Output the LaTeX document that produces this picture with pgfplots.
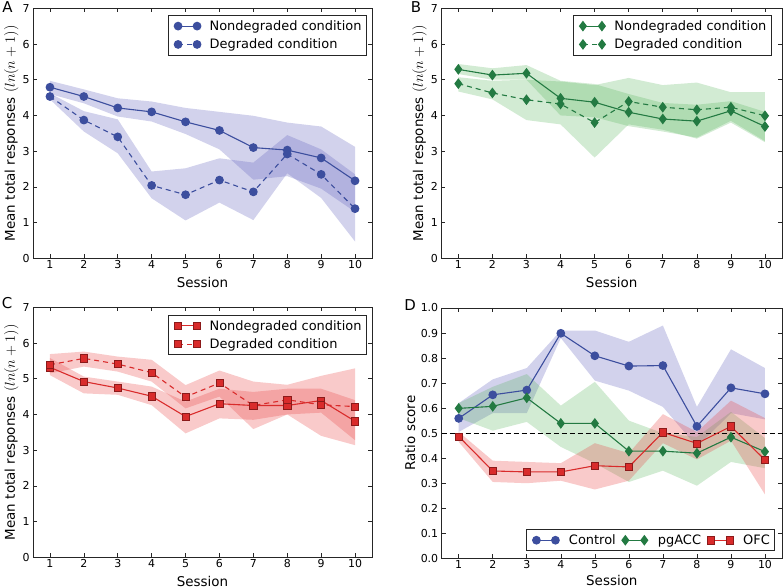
\documentclass[border=0pt]{standalone}
\usepackage{fontspec}
\setmainfont{DejaVu Sans}
\usepackage{pgfplots}
\usepackage{pgfplotstable}
\pgfplotsset{compat=1.18}

\definecolor{cblue}{HTML}{3C4E9E}
\definecolor{cgreen}{HTML}{237A42}
\definecolor{cred}{HTML}{D92B2B}
\definecolor{credge}{HTML}{8B1A1A}
\definecolor{bblue}{HTML}{6A6AC0}
\definecolor{bgreen}{HTML}{4CAF50}
\definecolor{bred}{HTML}{E84040}

% means
\pgfplotstableread{
x An Ad Bn Bd Cn Cd Dc Dp Do
1 4.79 4.53 5.29 4.89 5.32 5.39 0.559 0.599 0.487
2 4.53 3.87 5.13 4.63 4.92 5.57 0.653 0.607 0.349
3 4.21 3.40 5.18 4.44 4.74 5.41 0.672 0.641 0.345
4 4.10 2.04 4.48 4.32 4.51 5.17 0.899 0.539 0.345
5 3.82 1.78 4.37 3.80 3.94 4.49 0.809 0.539 0.370
6 3.58 2.19 4.09 4.39 4.30 4.88 0.768 0.428 0.365
7 3.10 1.86 3.90 4.23 4.25 4.25 0.770 0.428 0.503
8 3.03 2.92 3.84 4.16 4.25 4.41 0.527 0.420 0.459
9 2.81 2.35 4.13 4.23 4.39 4.27 0.681 0.484 0.527
10 2.17 1.39 3.69 3.99 3.81 4.22 0.657 0.426 0.393
}\means
% confidence bands: upper edge from session 1 to 10, then lower edge from 10 back to 1
\pgfplotstableread{
x An Ad Bn Bd Cn Cd Dc Dp Do
1 4.97 4.62 5.44 5.07 5.58 5.69 0.620 0.620 0.505
2 4.73 4.12 5.32 4.97 5.06 5.76 0.715 0.685 0.390
3 4.48 3.89 5.41 5.00 4.92 5.62 0.760 0.736 0.385
4 4.39 2.43 4.97 4.95 4.78 5.53 0.910 0.610 0.380
5 4.21 2.52 4.88 4.85 4.36 4.82 0.910 0.705 0.460
6 4.10 2.80 4.60 5.05 4.72 5.23 0.865 0.550 0.420
7 3.99 2.68 4.35 4.85 4.63 4.92 0.930 0.500 0.576
8 3.80 3.45 4.30 4.92 4.72 4.83 0.605 0.485 0.505
9 3.69 3.05 4.40 4.65 4.72 5.08 0.835 0.585 0.630
10 3.12 2.35 4.10 4.65 4.40 5.29 0.760 0.480 0.560
10 1.30 0.47 3.28 3.25 3.28 3.14 0.555 0.360 0.255
9 1.95 1.69 3.85 3.80 4.05 3.40 0.580 0.385 0.470
8 2.30 2.38 3.38 3.35 4.00 4.00 0.445 0.290 0.395
7 2.20 1.07 3.55 3.60 3.85 3.59 0.605 0.350 0.460
6 3.05 1.56 3.70 3.75 3.89 4.50 0.670 0.305 0.310
5 3.48 1.06 3.95 2.82 3.47 4.17 0.710 0.380 0.275
4 3.83 1.68 4.00 3.75 4.26 4.92 0.880 0.445 0.310
3 3.97 2.94 5.00 3.87 4.55 5.20 0.580 0.545 0.300
2 4.34 3.55 5.00 4.45 4.59 5.34 0.580 0.510 0.305
1 4.60 4.45 5.16 4.67 5.10 5.15 0.505 0.560 0.465
}\bands

\pgfplotsset{
  panel/.style={
    scale only axis,
    xmin=0.5, xmax=10.5,
    xtick={1,...,10},
    minor tick num=0,
    tick align=inside,
    major tick length=4bp,
    tick style={black!85, line width=0.6bp},
    axis line style={black!85, line width=0.8bp},
    tick label style={font=\fontsize{11}{13}\selectfont},
    xticklabel style={yshift=1bp},
    xlabel style={font=\fontsize{13.5}{16}\selectfont, at={(axis description cs:0.5,-0.095)}, anchor=center},
    ylabel style={font=\fontsize{13.5}{16}\selectfont, at={(axis description cs:-0.064,0.5)}, anchor=center},
    /pgf/number format/assume math mode=true,
    xlabel={Session},
    legend cell align=left,
    legend style={font=\fontsize{13}{15}\selectfont, draw=black!85, line width=0.8bp,
      inner sep=3bp, row sep=3bp},
    legend image code/.code={\draw[#1] plot coordinates {(0bp,0bp) (19bp,0bp)}; \path (-6bp,0bp) (29bp,0bp);},
  },
  band/.style={draw=none, fill=#1, forget plot},
  sblue/.style={cblue, line width=1.1bp, mark=*, mark size=3.8bp, mark options={solid, fill=cblue}},
  sgreen/.style={cgreen, line width=1.1bp, mark=diamond*, mark size=4.5bp, mark options={solid, fill=cgreen}},
  sred/.style={cred, line width=1.1bp, mark=square*, mark size=3.6bp, mark options={solid, fill=cred, draw=credge, line width=0.6bp}},
  dsh/.style={dash pattern=on 5bp off 4bp},
}

\begin{document}
\begin{tikzpicture}
\path[use as bounding box] (0,0) rectangle (784bp,588bp);

% ---------- Panel A ----------
\begin{axis}[panel, at={(33bp,329.7bp)}, anchor=south west, width=339bp, height=250bp,
  ymin=0, ymax=7, ytick={0,...,7},
  ylabel={Mean total responses $(ln(n+1))$},
  legend style={at={(axis description cs:0.985,0.973)}, anchor=north east}]
\addplot[band=bblue, fill opacity=0.3] table[x=x,y=An]{\bands} -- cycle;
\addplot[band=bblue, fill opacity=0.3] table[x=x,y=Ad]{\bands} -- cycle;
\addplot[sblue] table[x=x,y=An]{\means};
\addlegendentry{Nondegraded condition}
\addplot[sblue, dsh] table[x=x,y=Ad]{\means};
\addlegendentry{Degraded condition}
\end{axis}

% ---------- Panel B ----------
\begin{axis}[panel, at={(441.3bp,329.7bp)}, anchor=south west, width=340.7bp, height=250bp,
  ymin=0, ymax=7, ytick={0,...,7},
  ylabel={Mean total responses $(ln(n+1))$},
  legend style={at={(axis description cs:0.97,0.973)}, anchor=north east}]
\addplot[band=bgreen, fill opacity=0.25] table[x=x,y=Bn]{\bands} -- cycle;
\addplot[band=bgreen, fill opacity=0.25] table[x=x,y=Bd]{\bands} -- cycle;
\addplot[sgreen] table[x=x,y=Bn]{\means};
\addlegendentry{Nondegraded condition}
\addplot[sgreen, dsh] table[x=x,y=Bd]{\means};
\addlegendentry{Degraded condition}
\end{axis}

% ---------- Panel C ----------
\begin{axis}[panel, at={(33bp,30.7bp)}, anchor=south west, width=339bp, height=250bp,
  ymin=0, ymax=7, ytick={0,...,7},
  ylabel={Mean total responses $(ln(n+1))$},
  legend style={at={(axis description cs:0.985,0.97)}, anchor=north east}]
\addplot[band=bred, fill opacity=0.28] table[x=x,y=Cn]{\bands} -- cycle;
\addplot[band=bred, fill opacity=0.28] table[x=x,y=Cd]{\bands} -- cycle;
\addplot[sred] table[x=x,y=Cn]{\means};
\addlegendentry{Nondegraded condition}
\addplot[sred, dsh] table[x=x,y=Cd]{\means};
\addlegendentry{Degraded condition}
\end{axis}

% ---------- Panel D ----------
\begin{axis}[panel, at={(441.7bp,29.7bp)}, anchor=south west, width=340.3bp, height=250.3bp,
  ymin=0, ymax=1, ytick={0,0.1,...,1.0},
  yticklabel style={/pgf/number format/.cd, fixed, fixed zerofill, precision=1},
  ylabel={Ratio score},
  ylabel style={at={(axis description cs:-0.093,0.5)}},
  xlabel style={at={(axis description cs:0.5,-0.09)}},
  legend columns=3,
  legend style={at={(axis description cs:0.98,0.028)}, anchor=south east, column sep=1bp}]
\addplot[band=bblue, fill opacity=0.3] table[x=x,y=Dc]{\bands} -- cycle;
\addplot[band=bgreen, fill opacity=0.25] table[x=x,y=Dp]{\bands} -- cycle;
\addplot[band=bred, fill opacity=0.28] table[x=x,y=Do]{\bands} -- cycle;
\addplot[black, line width=1bp, dash pattern=on 5bp off 3bp, forget plot] coordinates {(0.5,0.5) (10.5,0.5)};
\addplot[sblue] table[x=x,y=Dc]{\means};
\addlegendentry{Control}
\addplot[sgreen] table[x=x,y=Dp]{\means};
\addlegendentry{pgACC}
\addplot[sred] table[x=x,y=Do]{\means};
\addlegendentry{OFC}
\end{axis}

% panel letters
\node[font=\fontsize{15}{17}\selectfont] at (7.5bp,580.5bp) {A};
\node[font=\fontsize{15}{17}\selectfont] at (416bp,580.5bp) {B};
\node[font=\fontsize{15}{17}\selectfont] at (7bp,284.5bp) {C};
\node[font=\fontsize{15}{17}\selectfont] at (410bp,283bp) {D};
\end{tikzpicture}
\end{document}
